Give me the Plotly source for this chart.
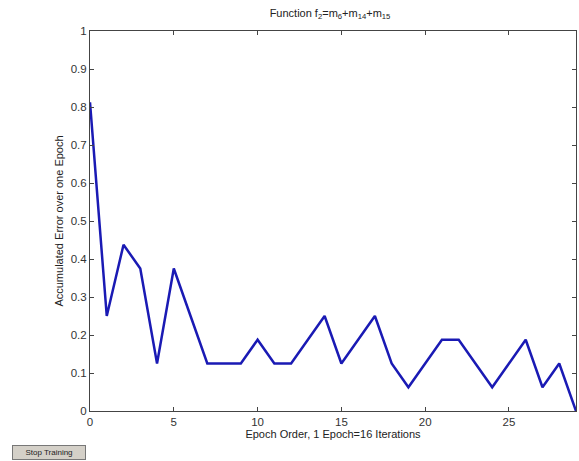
import plotly.graph_objects as go

epochs = list(range(30))
errors = [0.8125, 0.25, 0.4375, 0.375, 0.125, 0.375, 0.25, 0.125, 0.125, 0.125,
          0.1875, 0.125, 0.125, 0.1875, 0.25, 0.125, 0.1875, 0.25, 0.125, 0.0625,
          0.125, 0.1875, 0.1875, 0.125, 0.0625, 0.125, 0.1875, 0.0625, 0.125, 0.0]
x_ticks = [0, 5, 10, 15, 20, 25]
y_ticks = [0, 0.1, 0.2, 0.3, 0.4, 0.5, 0.6, 0.7, 0.8, 0.9, 1]
y_tick_text = ["0", "0.1", "0.2", "0.3", "0.4", "0.5", "0.6", "0.7", "0.8", "0.9", "1"]

font = "Liberation Sans, Arial, sans-serif"

fig = go.Figure()
fig.add_trace(go.Scatter(x=epochs, y=errors, mode="lines",
                         line=dict(color="#1a1ab4", width=2.5), showlegend=False,
                         cliponaxis=True))

axis_common = dict(showgrid=False, zeroline=False, showline=True, linecolor="#444444",
                   linewidth=1, mirror="ticks", ticks="inside", ticklen=4, automargin=False,
                   tickcolor="#444444", tickfont=dict(family=font, size=11.5, color="#333333"))

fig.update_layout(
    width=579, height=461,
    margin=dict(l=90, r=3, t=31, b=50),
    paper_bgcolor="white", plot_bgcolor="white",
    title=dict(text="Function f<sub>2</sub>=m<sub>6</sub>+m<sub>14</sub>+m<sub>15</sub>",
               x=0.57, xanchor="center", y=0.972, yanchor="middle", automargin=False,
               font=dict(family=font, size=11, color="#222222")),
    xaxis=dict(range=[0, 29], tickvals=x_ticks, ticktext=[str(t) for t in x_ticks],
               title=dict(text="Epoch Order, 1 Epoch=16 Iterations", standoff=2,
                          font=dict(family=font, size=11, color="#222222")),
               **axis_common),
    yaxis=dict(range=[0, 1], tickvals=y_ticks, ticktext=y_tick_text,
               title=dict(text="Accumulated Error over one Epoch", standoff=4,
                          font=dict(family=font, size=11, color="#222222")),
               **axis_common),
)

fig.add_annotation(text="Stop Training", xref="paper", yref="paper",
                   x=-0.161, y=-0.108, xanchor="left", yanchor="middle",
                   showarrow=False, font=dict(family=font, size=8, color="#222222"),
                   bgcolor="#d4d0c8", bordercolor="#777777", borderwidth=1, borderpad=2,
                   width=68)

fig.write_html("out.html", config={"displayModeBar": False},
               post_script="document.body.style.margin='0px';")
